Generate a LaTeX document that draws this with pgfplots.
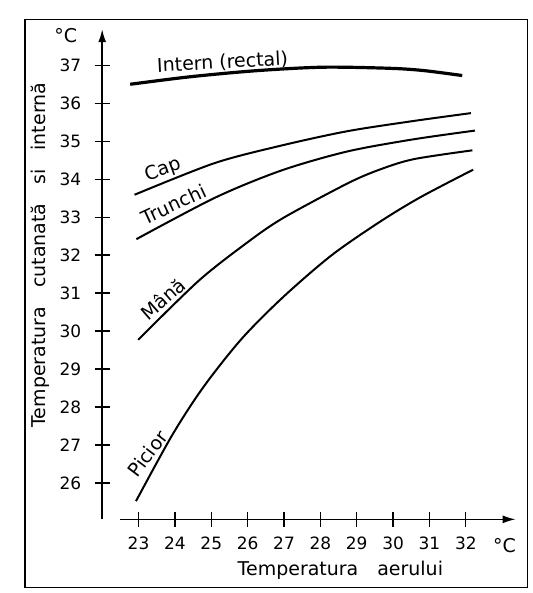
\documentclass[border=0pt]{standalone}
\usepackage{fontspec}
\setmainfont{DejaVu Sans}
\usepackage{pgfplots}
\pgfplotsset{compat=1.18}
\usetikzlibrary{arrows.meta}
\begin{document}
\begin{tikzpicture}[font=\fontsize{19}{23}\selectfont]
\begin{axis}[
  x=36.4pt, y=38pt,
  xmin=22, xmax=33.37, ymin=25.04, ymax=37.95,
  axis lines=left,
  clip=false,
  axis line style={line width=1.6pt, black},
  x axis line style={-{Latex[length=13pt,width=8pt]}, shorten <=18pt},
  y axis line style={-{Latex[length=13pt,width=8pt]}},
  xtick={23,24,...,32},
  ytick={26,27,...,37},
  tick align=center,
  major tick length=15pt,
  tick style={line width=1.3pt, black},
  /pgf/number format/assume math mode=true,
  ticklabel style={font=\fontsize{17}{20}\selectfont},
  xticklabel style={yshift=-7pt},
  yticklabel style={xshift=-10pt},
]
\addplot[line width=3.2pt, smooth] coordinates {
(22.77,36.50) (24.44,36.70) (26.27,36.86) (28.09,36.95) (29.93,36.92) (30.85,36.86) (31.90,36.73)};
\addplot[line width=2pt, smooth] coordinates {
(22.89,33.59) (25.08,34.42) (26.90,34.88) (28.72,35.26) (30.54,35.53) (32.14,35.74)};
\addplot[line width=2pt, smooth] coordinates {
(22.94,32.42) (25.12,33.52) (26.93,34.23) (28.74,34.73) (30.56,35.05) (32.25,35.28)};
\addplot[line width=2pt, smooth] coordinates {
(22.99,29.77) (24.66,31.33) (26.00,32.34) (26.98,32.98) (28.77,33.90) (29.68,34.27) (30.58,34.53) (32.18,34.76)};
\addplot[line width=2pt, smooth] coordinates {
(22.93,25.52) (23.92,27.25) (24.78,28.52) (25.83,29.79) (26.97,30.89) (28.30,31.99) (29.64,32.88) (30.76,33.53) (32.20,34.25)};
\node[rotate=3] at (axis cs:25.31,37.07) {Intern (rectal)};
\node[rotate=20] at (axis cs:23.67,34.24) {Cap};
\node[rotate=25] at (axis cs:23.97,33.34) {Trunchi};
\node[rotate=41] at (axis cs:23.67,30.85) {Mână};
\node[rotate=53] at (axis cs:23.25,26.77) {Picior};
\node at (axis cs:21.0,37.78) {°C};
\node at (axis cs:33.06,24.36) {°C};
\node at (axis cs:28.55,23.70) {Temperatura\quad aerului};
\node[rotate=90] at (axis cs:20.29,32.0) {Temperatura\quad cutanată\quad si\quad internă};
\draw[line width=1.5pt] (axis cs:19.88,23.25) rectangle (axis cs:33.7,38.2);
\coordinate (bl) at (axis cs:19.19,23.10);
\coordinate (tr) at (axis cs:33.83,38.72);
\end{axis}
\pgfresetboundingbox
\useasboundingbox (bl) rectangle (tr);
\end{tikzpicture}
\end{document}
